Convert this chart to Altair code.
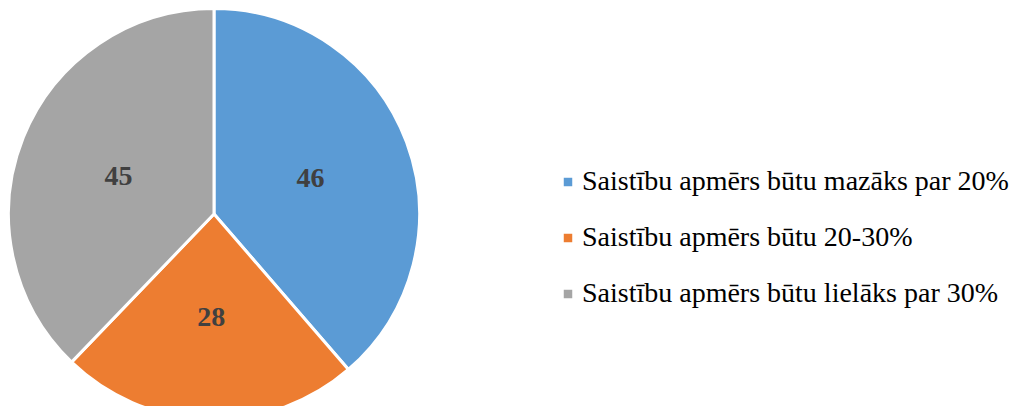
import altair as alt
import pandas as pd

categories = [
    "Saistību apmērs būtu mazāks par 20%",
    "Saistību apmērs būtu 20-30%",
    "Saistību apmērs būtu lielāks par 30%",
]
values = [46, 28, 45]
colors = ["#5B9BD5", "#ED7D31", "#A5A5A5"]

df = pd.DataFrame({"cat": categories, "value": values, "order": list(range(len(values)))})

cx, cy = 206, 206
R = 205.5

base = alt.Chart(df).encode(
    theta=alt.Theta("value:Q", stack=True),
    order=alt.Order("order:Q"),
    x=alt.value(cx),
    y=alt.value(cy),
)

arcs = base.mark_arc(outerRadius=R, stroke="white", strokeWidth=3).encode(
    color=alt.Color(
        "cat:N",
        scale=alt.Scale(domain=categories, range=colors),
        sort=categories,
        legend=alt.Legend(
            title=None,
            orient="none",
            legendX=546,
            legendY=160,
            symbolType="square",
            symbolSize=72,
            symbolStrokeWidth=0,
            labelFont="Liberation Serif",
            labelFontSize=28,
            labelColor="#000000",
            labelOffset=0,
            labelLimit=600,
            rowPadding=28,
        ),
    )
)

labels = base.mark_text(
    radius=103,
    font="Liberation Serif",
    fontSize=28,
    fontWeight="bold",
    color="#404040",
    baseline="middle",
    align="center",
    dy=1,
).encode(text="value:Q")

chart = (
    alt.layer(arcs, labels)
    .properties(
        width=1003,
        height=398,
        padding=0,
        autosize=alt.AutoSizeParams(type="none"),
    )
    .configure_view(stroke=None)
)

chart.save("out.html", embed_options={"renderer": "svg", "actions": False})
